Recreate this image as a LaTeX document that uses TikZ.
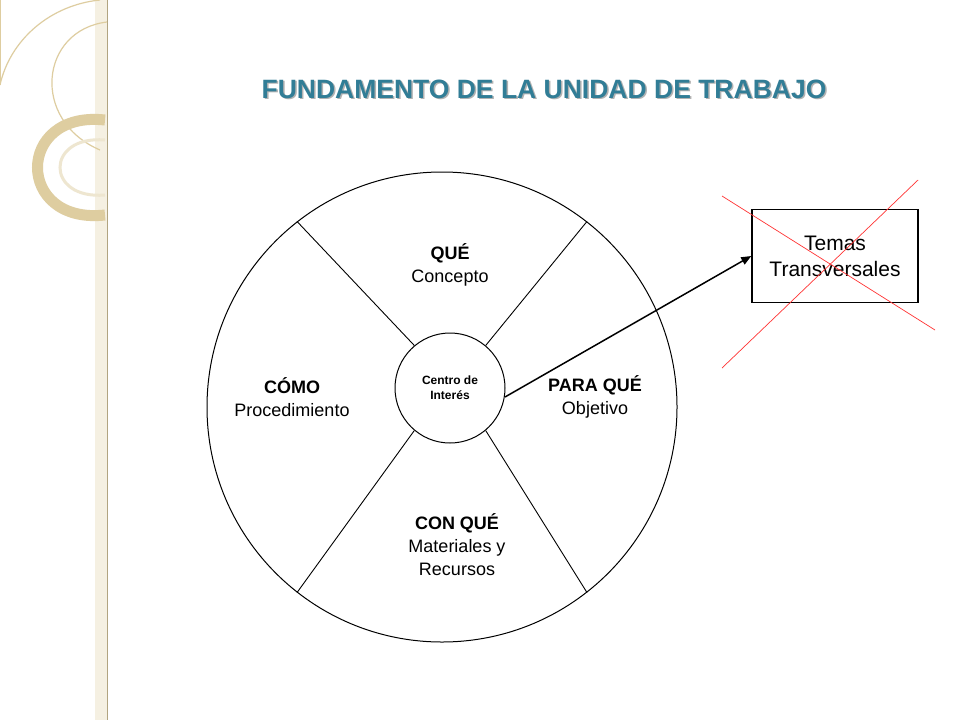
\documentclass[tikz,border=0pt]{standalone}
\usepackage{fontspec}
\setmainfont{Liberation Sans}
\usetikzlibrary{arrows.meta}
\definecolor{teal1}{RGB}{49,125,150}
\definecolor{beige}{RGB}{222,205,160}
\begin{document}
\begin{tikzpicture}[x=1pt,y=-1pt,
 lbl/.style={align=center,font=\fontsize{18}{23}\selectfont},
 spoke/.style={line width=0.9pt}]
\useasboundingbox (0,0) rectangle (960,720);
\fill[white] (0,0) rectangle (960,720);
% decoration
\fill[beige!30] (95,0) rectangle (107,720);
\draw[beige!80!black,line width=0.6pt] (107,0) -- (107,720);
\draw[beige,line width=1pt] (0,85) -- (0,0);
\draw[beige,line width=1.2pt] (0,85) .. controls (10,40) and (50,5) .. (100,0);
\draw[beige,line width=1.2pt] (107,22) .. controls (40,30) and (30,120) .. (100,150);
\draw[beige,line width=11pt] (105,120) .. controls (15,110) and (15,225) .. (105,215);
\draw[beige!50,line width=3pt] (105,140) .. controls (45,135) and (45,200) .. (105,195);
% title
\node[font=\bfseries\fontsize{26.5}{30}\selectfont,text=gray!60] at (545.5,90.5) {FUNDAMENTO DE LA UNIDAD DE TRABAJO};
\node[font=\bfseries\fontsize{26.5}{30}\selectfont,text=teal1] (title) at (544,89) {FUNDAMENTO DE LA UNIDAD DE TRABAJO};
% circles
\node[draw,circle,line width=1pt,minimum size=470pt] (outer) at (442,407) {};
\node[draw,circle,line width=1pt,minimum size=110pt,align=center,font=\bfseries\fontsize{12}{15}\selectfont,inner sep=0pt] (inner) at (450,388) {Centro de\\Interés};
\draw[spoke] (inner.130) -- (outer.128);
\draw[spoke] (inner.50) -- (outer.52);
\draw[spoke] (inner.230) -- (outer.232);
\draw[spoke] (inner.310) -- (outer.308);
\node[lbl] (que) at (450,265) {\textbf{QUÉ}\\Concepto};
\node[lbl] (como) at (292,397) {\textbf{CÓMO}\\Procedimiento};
\node[lbl] (para) at (595,397) {\textbf{PARA QUÉ}\\Objetivo};
\node[lbl] (con) at (457,545) {\textbf{CON QUÉ}\\Materiales y\\Recursos};
% box
\node[draw,line width=1.5pt,minimum width=166pt,minimum height=93pt,align=center,font=\fontsize{21}{26}\selectfont] (box) at (835,256) {Temas\\Transversales};
\coordinate (start) at (505,397);
\draw[line width=1.5pt,-{Triangle[length=10pt,width=8pt]}] (start) -- (box.west);
\draw[red!80,line width=0.7pt] (722,196) -- (935,330);
\draw[red!80,line width=0.7pt] (918,180) -- (722,368);
\end{tikzpicture}
\end{document}
